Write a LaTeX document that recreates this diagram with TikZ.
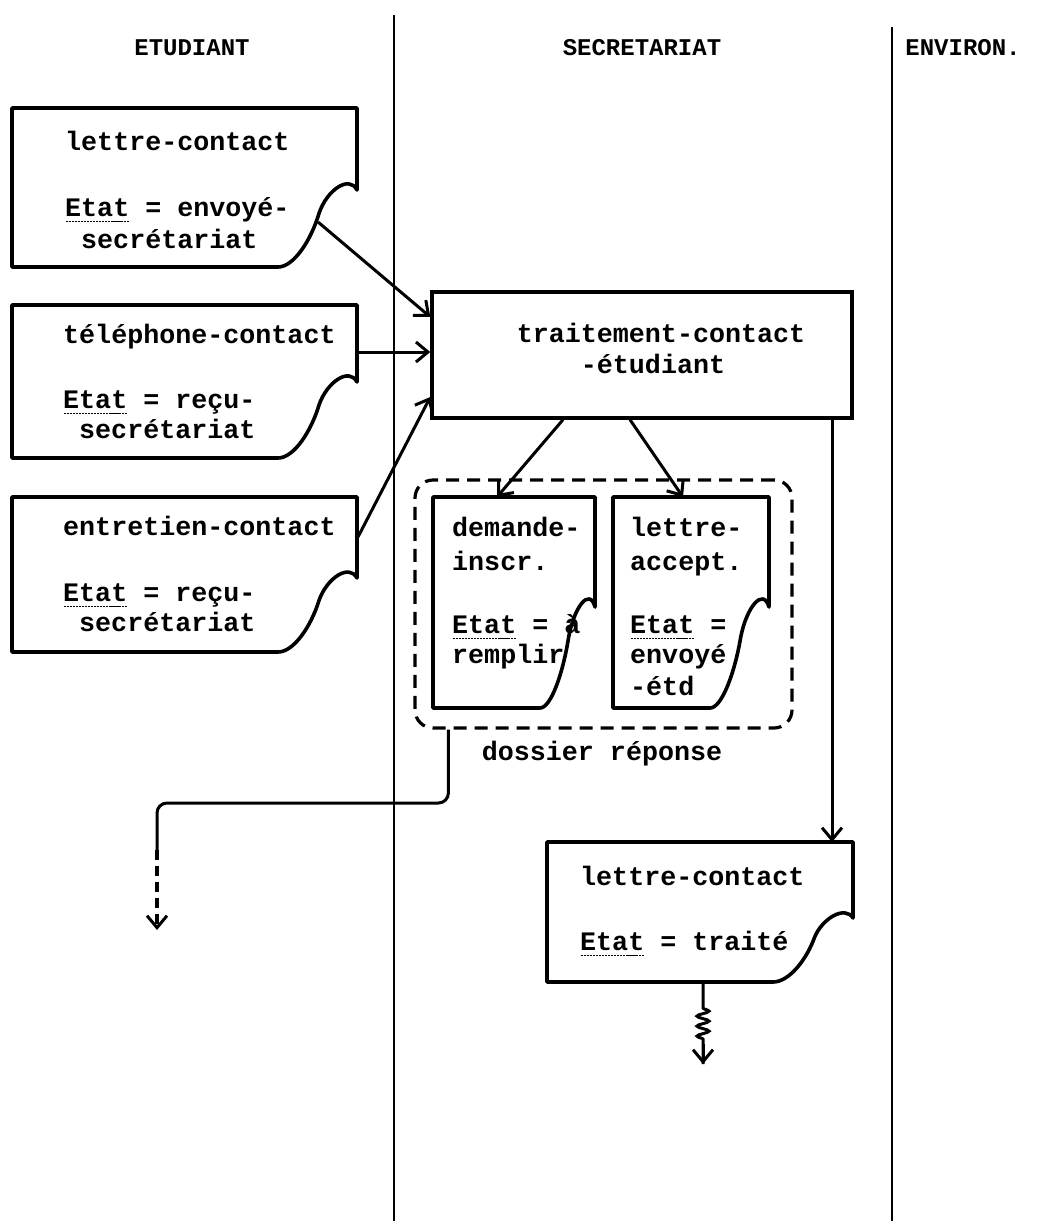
\documentclass[tikz,border=0pt]{standalone}
\usepackage{fontspec}
\usetikzlibrary{arrows.meta,calc,decorations.pathmorphing}
\newfontfamily\monofont{Liberation Mono}
\newcommand{\doctext}{\monofont\bfseries\fontsize{26.7}{31}\selectfont}
\newcommand{\hdrfont}{\monofont\bfseries\fontsize{24}{26}\selectfont}
\newcommand{\etatu}{\leavevmode\rlap{\raisebox{-6pt}{\hbox to 64pt{\xleaders\hbox to 3pt{\hss\rule{2.2pt}{1pt}\hss}\hfill}}}Etat}
\tikzset{
  lane/.style={line width=2pt},
  docline/.style={draw, line width=3.6pt, line join=round},
  docnode/.style={inner sep=0pt, outer sep=0pt},
  procbox/.style={draw, line width=3.4pt, minimum width=420pt, minimum height=126pt, inner sep=0pt},
  txt/.style={font=\doctext, inner sep=0pt, anchor=base west},
  ctxt/.style={font=\doctext, inner sep=0pt, anchor=base},
  hdr/.style={font=\hdrfont, inner sep=0pt},
  tip/.style={-{Straight Barb[length=12pt,width=20pt,line width=3pt]}},
  flow/.style={line width=3pt, tip},
  dossierbox/.style={draw, dash pattern=on 13pt off 8pt, rounded corners=18pt, line width=3.2pt,
    minimum width=377pt, minimum height=248pt, inner sep=0pt},
}
% name, L, T, R, B, Rd, Bx
\newcommand{\docshape}[7]{%
  \node[docnode, minimum width={#4-#2}, minimum height={#5-#3}] (#1) at ({(#2+#4)/2},{(#3+#5)/2}) {};
  \path[docline, line width=3.6pt] (#2,#3) -- (#4,#3) -- (#4,#6)
    .. controls ({#4-0.10*(#4-#7)},{#6-0.20*(#5-#6)}) and ({#4-0.38*(#4-#7)},{#6}) .. ({#4-0.48*(#4-#7)},{#6+0.30*(#5-#6)})
    .. controls ({#4-0.58*(#4-#7)},{#6+0.65*(#5-#6)}) and ({#4-0.80*(#4-#7)},{#5}) .. ({#7},{#5})
    -- (#2,#5) -- cycle;
}
\begin{document}
\begin{tikzpicture}[x=1pt,y=-1pt]
\useasboundingbox (0,0) rectangle (1038,1221);
\fill[white] (0,0) rectangle (1038,1221);

% swimlane separators
\draw[lane] (394,15) -- (394,1221);
\draw[lane] (892,27) -- (892,1221);

% headers
\node[hdr] (hEtud) at (192,48) {ETUDIANT};
\node[hdr] (hSecr) at (642,48) {SECRETARIAT};
\node[hdr] (hEnv) at (963,48) {ENVIRON.};

% documents in ETUDIANT lane
\docshape{d1}{12}{108}{357}{267}{190}{278}
\node[txt] (d1a) at (65,150) {lettre-contact};
\node[txt] (d1b) at (65,216) {\etatu{} = envoyé-};
\node[txt] (d1c) at (81,248) {secrétariat};

\docshape{d2}{12}{305}{357}{458}{382}{278}
\node[txt] (d2a) at (63,343) {téléphone-contact};
\node[txt] (d2b) at (63,408) {\etatu{} = reçu-};
\node[txt] (d2c) at (79,438) {secrétariat};

\docshape{d3}{12}{497}{357}{652}{578}{278}
\node[txt] (d3a) at (63,535) {entretien-contact};
\node[txt] (d3b) at (63,601) {\etatu{} = reçu-};
\node[txt] (d3c) at (79,631) {secrétariat};

% process box
\node[procbox] (proc) at (642,355) {};
\node[ctxt] (proct1) at (661,342) {traitement-contact};
\node[ctxt] (proct2) at (653,373) {-étudiant};

% dossier reponse
\node[dossierbox] (dossier) at (603.5,604) {};
\docshape{d4}{433}{497}{595}{708}{607}{540}
\node[txt] (d4a) at (452,536) {demande-};
\node[txt] (d4b) at (452,570) {inscr.};
\node[txt] (d4c) at (452,633) {\etatu{} = à};
\node[txt] (d4d) at (452,663) {remplir};

\docshape{d5}{613}{497}{769}{708}{607}{710}
\node[txt] (d5a) at (630,536) {lettre-};
\node[txt] (d5b) at (630,570) {accept.};
\node[txt] (d5c) at (630,633) {\etatu{} =};
\node[txt] (d5d) at (630,663) {envoyé};
\node[txt] (d5e) at (630,695) {-étd};

\node[font=\doctext, inner sep=0pt, anchor=base] (dosslbl) at (602,760) {dossier réponse};

% final document
\docshape{d6}{547}{842}{853}{982}{918}{773}
\node[txt] (d6a) at (580,885) {lettre-contact};
\node[txt] (d6b) at (580,950) {\etatu{} = traité};

% connectors
\coordinate (d1o) at (318,222);
\coordinate (d2o) at (357,352);
\coordinate (d3o) at (358,537);
\draw[flow] (d1o) -- ([yshift=38pt]proc.west);
\draw[flow] (d2o) -- (proc.west |- d2o);
\draw[flow] (d3o) -- ([yshift=-42pt]proc.west);

\draw[flow] ([xshift=-79pt]proc.south) -- ([xshift=-17pt]d4.north);
\draw[flow] ([xshift=-12pt]proc.south) -- ([xshift=-8pt]d5.north);

\coordinate (a6) at ([xshift=190pt]proc.south);
\draw[flow] (a6) -- (a6 |- d6.north);

% dossier to student (dashed continuation)
\coordinate (dturn) at (157,850);
\coordinate (dend) at (157,930);
\draw[line width=3pt, rounded corners=10pt] ([xshift=35pt]dossier.south west) |- (157,803) -- (dturn);
\draw[line width=3.6pt, dash pattern=on 10pt off 6pt, tip] (dturn) -- (dend);

% environment (wavy) output
\coordinate (wstart) at ([xshift=3pt]d6.south);
\coordinate (wend) at (703,1064);
\draw[line width=3pt, decorate, decoration={snake, amplitude=6pt, segment length=10pt, pre length=26pt, post length=20pt}] (wstart) -- (wend);
\draw[flow] ($(wend)+(0,-20)$) -- (wend);
\end{tikzpicture}
\end{document}
